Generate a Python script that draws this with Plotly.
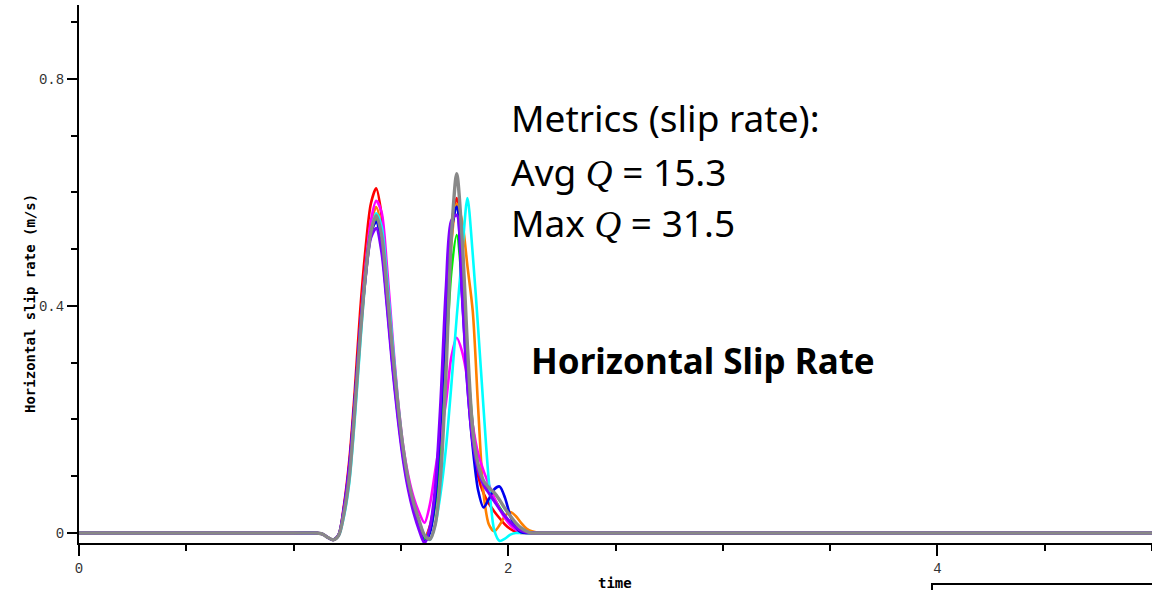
import plotly.graph_objects as go

# Sample times (s) shared by every station record
time = [0.0, 1.0, 1.11, 1.135, 1.16, 1.185, 1.21, 1.235, 1.26, 1.285, 1.31, 1.335,
        1.36, 1.385, 1.41, 1.435, 1.46, 1.485, 1.51, 1.535, 1.56, 1.585, 1.61, 1.635,
        1.66, 1.685, 1.71, 1.735, 1.76, 1.785, 1.81, 1.835, 1.86, 1.885, 1.91, 1.935,
        1.96, 1.985, 2.01, 2.035, 2.06, 2.085, 2.11, 2.135, 2.16, 2.185, 2.25, 5.0]

# Horizontal slip rate (m/s) for each model
red = [0, 0, 0, -0.002, -0.008, -0.012, -0.003, 0.05, 0.13, 0.25, 0.39, 0.50,
       0.58, 0.607, 0.56, 0.45, 0.33, 0.23, 0.15, 0.09, 0.048, 0.015, -0.008, 0.012,
       0.07, 0.20, 0.38, 0.54, 0.59, 0.44, 0.28, 0.16, 0.10, 0.07, 0.052, 0.038,
       0.026, 0.015, 0.007, 0.002, 0, 0, 0, 0, 0, 0, 0, 0]
orange = [0, 0, 0, -0.002, -0.008, -0.012, -0.004, 0.04, 0.11, 0.225, 0.36, 0.465,
          0.545, 0.574, 0.535, 0.435, 0.325, 0.225, 0.145, 0.088, 0.046, 0.016, -0.008, 0.008,
          0.06, 0.18, 0.35, 0.51, 0.58, 0.55, 0.47, 0.39, 0.22, 0.07, 0.015, 0.003,
          0.014, 0.03, 0.037, 0.03, 0.018, 0.008, 0.003, 0.001, 0, 0, 0, 0]
green = [0, 0, 0, -0.002, -0.008, -0.012, -0.004, 0.038, 0.105, 0.215, 0.345, 0.45,
         0.525, 0.552, 0.515, 0.42, 0.315, 0.22, 0.142, 0.086, 0.045, 0.015, -0.01, 0.005,
         0.05, 0.16, 0.31, 0.46, 0.525, 0.44, 0.30, 0.19, 0.12, 0.09, 0.075, 0.06,
         0.045, 0.03, 0.018, 0.009, 0.003, 0, 0, 0, 0, 0, 0, 0]
magenta = [0, 0, 0, -0.002, -0.008, -0.012, -0.004, 0.04, 0.11, 0.22, 0.36, 0.47,
           0.55, 0.585, 0.565, 0.47, 0.35, 0.24, 0.155, 0.10, 0.062, 0.036, 0.018, 0.05,
           0.11, 0.17, 0.23, 0.31, 0.344, 0.32, 0.27, 0.19, 0.14, 0.11, 0.085, 0.062,
           0.042, 0.026, 0.014, 0.006, 0.002, 0, 0, 0, 0, 0, 0, 0]
cyan = [0, 0, 0, -0.002, -0.008, -0.012, -0.005, 0.03, 0.09, 0.20, 0.33, 0.45,
        0.53, 0.563, 0.54, 0.45, 0.34, 0.235, 0.15, 0.09, 0.05, 0.02, -0.004, -0.012,
        0.015, 0.07, 0.15, 0.26, 0.38, 0.49, 0.59, 0.49, 0.36, 0.22, 0.09, 0.005,
        -0.014, -0.01, -0.003, 0, 0, 0, 0, 0, 0, 0, 0, 0]
blue = [0, 0, 0, -0.002, -0.008, -0.012, -0.003, 0.045, 0.12, 0.235, 0.36, 0.46,
        0.53, 0.548, 0.505, 0.405, 0.30, 0.21, 0.135, 0.08, 0.04, 0.01, -0.015, 0.0,
        0.06, 0.20, 0.38, 0.53, 0.575, 0.42, 0.26, 0.15, 0.075, 0.045, 0.06, 0.077,
        0.082, 0.062, 0.03, 0.01, 0.001, 0, 0, 0, 0, 0, 0, 0]
purple = [0, 0, 0, -0.002, -0.008, -0.012, -0.003, 0.045, 0.12, 0.23, 0.355, 0.45,
          0.52, 0.537, 0.495, 0.40, 0.295, 0.205, 0.13, 0.075, 0.035, 0.005, -0.018, 0.01,
          0.08, 0.23, 0.43, 0.55, 0.56, 0.42, 0.26, 0.16, 0.11, 0.085, 0.07, 0.056,
          0.042, 0.03, 0.019, 0.01, 0.004, 0.001, 0, 0, 0, 0, 0, 0]
gray = [0, 0, 0, -0.002, -0.008, -0.012, -0.004, 0.035, 0.10, 0.215, 0.345, 0.455,
        0.53, 0.559, 0.525, 0.43, 0.325, 0.23, 0.15, 0.092, 0.052, 0.022, -0.004, -0.011,
        0.015, 0.10, 0.28, 0.52, 0.633, 0.52, 0.33, 0.18, 0.12, 0.092, 0.08, 0.071,
        0.058, 0.043, 0.03, 0.018, 0.009, 0.003, 0, 0, 0, 0, 0, 0]

series = [
    (red, "#ff0000", 2.6),
    (orange, "#ff8000", 2.6),
    (green, "#00ee00", 2.6),
    (magenta, "#ff00ff", 2.6),
    (cyan, "#00ffff", 2.6),
    (blue, "#0000ee", 2.6),
    (purple, "#8000ff", 2.9),
    (gray, "#888888", 3.4),
]

fig = go.Figure()
for values, color, width in series:
    fig.add_trace(go.Scatter(x=time, y=values, mode="lines",
                             line=dict(color=color, width=width, shape="spline", smoothing=0.8),
                             showlegend=False, hoverinfo="skip"))

tick_font = dict(family="Liberation Mono", size=14, color="#333333")
label_font = dict(family="DejaVu Sans Mono", size=14, color="black")

fig.update_xaxes(range=[0, 5.0], showgrid=False, zeroline=False,
                 showline=True, linecolor="black", linewidth=2,
                 ticks="outside", ticklen=11, tickwidth=2, tickcolor="black",
                 tick0=0, dtick=2, tickfont=tick_font,
                 minor=dict(ticks="outside", ticklen=6, tickwidth=1.5,
                            tickcolor="black", dtick=0.5, tick0=0))
fig.update_yaxes(range=[-0.0176, 0.93], showgrid=False, zeroline=False,
                 showline=True, linecolor="black", linewidth=2,
                 ticks="outside", ticklen=10, tickwidth=2, tickcolor="black",
                 tick0=0, dtick=0.4, tickfont=tick_font,
                 minor=dict(ticks="outside", ticklen=6, tickwidth=1.5,
                            tickcolor="black", dtick=0.1, tick0=0))

# pixel helpers for placing text relative to the plot area
L, T, W, H = 79, 5, 1073, 538
def px(xp):
    return (xp - L) / W
def py(yp):
    return (T + H - yp) / H

q = "<i><span style=\"font-family:'Liberation Serif'\">Q</span></i>"
text_font = dict(family="Noto Sans", size=37, color="black")
annotations = [
    dict(text="Metrics (slip rate):", x=px(509), y=py(118), font=text_font),
    dict(text="Avg " + q + " = 15.3", x=px(509), y=py(171), font=text_font),
    dict(text="Max " + q + " = 31.5", x=px(509), y=py(223), font=text_font),
    dict(text="<b>Horizontal Slip Rate</b>", x=px(529), y=py(360),
         font=dict(family="Noto Sans", size=35, color="black")),
]
for a in annotations:
    a.update(xref="paper", yref="paper", xanchor="left", yanchor="middle", showarrow=False)

annotations.append(dict(text="<b>Horizontal slip rate (m/s)</b>", textangle=-90,
                        x=px(30), y=py(304), xref="paper", yref="paper",
                        xanchor="center", yanchor="middle", showarrow=False, font=label_font))
annotations.append(dict(text="<b>time</b>", x=px(615), y=py(583), xref="paper", yref="paper",
                        xanchor="center", yanchor="middle", showarrow=False, font=label_font))

fig.update_layout(
    width=1152, height=590,
    margin=dict(l=L, r=0, t=T, b=590 - T - H),
    plot_bgcolor="white", paper_bgcolor="white",
    annotations=annotations,
    shapes=[dict(type="path", xref="paper", yref="paper",
                 path=f"M {px(932)},{py(600)} L {px(932)},{py(584)} L {px(1160)},{py(584)}",
                 line=dict(color="black", width=2))],
)

fig.write_html("out.html")
